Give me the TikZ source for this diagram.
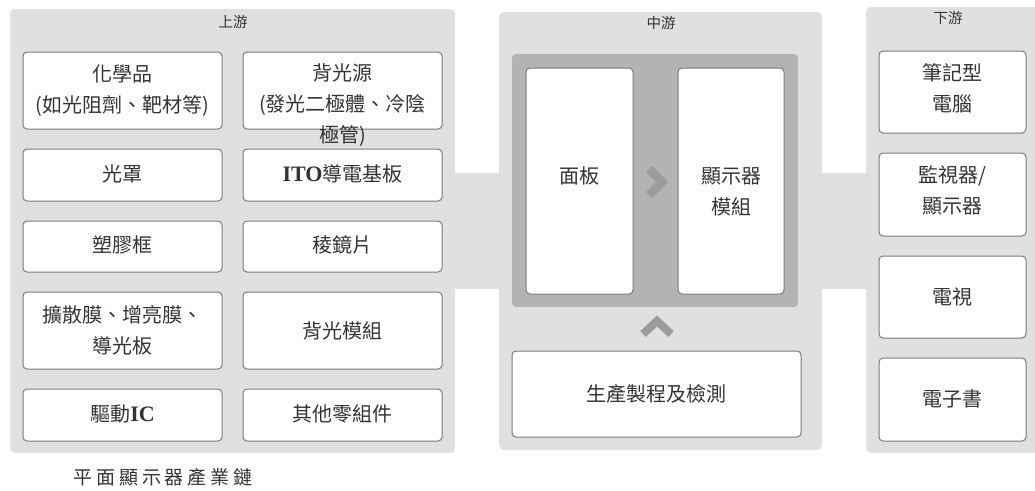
\documentclass[tikz,border=0pt]{standalone}
\usepackage{fontspec}
\setmainfont{Noto Sans CJK TC}
\newfontfamily\latinser[Scale=1.1]{Liberation Serif}
\newfontfamily\capfont[LetterSpace=20]{Noto Sans CJK TC}
\definecolor{panelgray}{HTML}{E0E0E0}
\definecolor{innergray}{HTML}{B3B3B3}
\definecolor{chevc}{HTML}{9B9B9B}
\definecolor{boxline}{HTML}{7A7A7A}
\definecolor{txtc}{HTML}{333333}
\tikzset{
  panelbox/.style={fill=panelgray, draw=none, rounded corners=5pt, inner sep=0pt},
  innerbox/.style={fill=innergray, draw=none, rounded corners=4pt, inner sep=0pt},
  itembox/.style={draw=boxline, line width=1pt, fill=white, rounded corners=4pt, inner sep=0pt,
    font=\fontsize{20}{31}\selectfont, text=txtc, align=center},
  itemtxt/.style={inner sep=0pt, font=\fontsize{20}{31}\selectfont, text=txtc, align=center},
  titletxt/.style={inner sep=0pt, font=\fontsize{14.5}{16}\selectfont, text=txtc},
  chevron/.style={draw=chevc, line width=8.5pt, miter limit=10},
}
\newcommand{\LS}[1]{{\latinser\bfseries #1}}
\begin{document}
\begin{tikzpicture}[x=1pt,y=-1pt]
\useasboundingbox (0,0) rectangle (1035,490);
\fill[white] (0,0) rectangle (1035,490);
% panels
\node[panelbox, minimum width=445pt, minimum height=444pt] (up) at (232.5,231) {};
\node[panelbox, minimum width=323pt, minimum height=438pt] (mid) at (660.5,231) {};
\node[panelbox, minimum width=175pt, minimum height=446pt] (down) at (953.5,230) {};
\fill[panelgray] (up.east |- 0,173) rectangle (mid.west |- 0,289);
\fill[panelgray] (mid.east |- 0,173) rectangle (down.west |- 0,289);
% titles
\node[titletxt] (tup) at (233,22) {上游};
\node[titletxt] (tmid) at (661,23) {中游};
\node[titletxt] (tdown) at (948,18) {下游};
% upstream boxes
\node[itembox, minimum width=199pt, minimum height=77pt] (b1) at (122.5,90.5) {化學品\\(如光阻劑、靶材等)};
\node[itembox, minimum width=199pt, minimum height=77pt] (b2) at (342.5,90.5) {};
\node[itemtxt] (b2t) at (342.5,105) {背光源\\(發光二極體、冷陰\\極管)};
\node[itembox, minimum width=199pt, minimum height=52pt] (b3) at (122.5,175) {\raisebox{4pt}{光罩}};
\node[itembox, minimum width=199pt, minimum height=52pt] (b4) at (342.5,175) {\raisebox{4pt}{\LS{ITO}導電基板}};
\node[itembox, minimum width=199pt, minimum height=51pt] (b5) at (122.5,246.5) {\raisebox{4pt}{塑膠框}};
\node[itembox, minimum width=199pt, minimum height=51pt] (b6) at (342.5,246.5) {\raisebox{4pt}{稜鏡片}};
\node[itembox, minimum width=199pt, minimum height=77pt] (b7) at (122.5,330.5) {擴散膜、增亮膜、\\導光板};
\node[itembox, minimum width=199pt, minimum height=77pt] (b8) at (342.5,330.5) {背光模組};
\node[itembox, minimum width=199pt, minimum height=52pt] (b9) at (122.5,415) {\raisebox{4pt}{驅動\LS{IC}}};
\node[itembox, minimum width=199pt, minimum height=52pt] (b10) at (342.5,415) {\raisebox{4pt}{其他零組件}};
% midstream
\node[innerbox, minimum width=286pt, minimum height=253pt] (inner) at (655,180.5) {};
\node[itembox, minimum width=107pt, minimum height=226pt] (panel) at (579.5,181) {};
\node[itemtxt] (panelt) at (579.5,176) {面板};
\node[itembox, minimum width=106pt, minimum height=226pt] (module) at (731,181) {};
\node[itemtxt] (modulet) at (731,191.5) {顯示器\\模組};
\coordinate (c1) at (649,169);
\coordinate (c2) at (662,182);
\coordinate (c3) at (649,195);
\draw[chevron] (c1) -- (c2) -- (c3);
\coordinate (u1) at (643,334);
\coordinate (u2) at (657,321);
\coordinate (u3) at (671,334);
\draw[chevron, line width=8pt] (u1) -- (u2) -- (u3);
\node[itembox, minimum width=289pt, minimum height=86pt] (proc) at (656.5,394) {\raisebox{2pt}{生產製程及檢測}};
% downstream
\node[itembox, minimum width=147pt, minimum height=82pt] (d1) at (952.5,92) {};
\node[itemtxt] (d1t) at (952.5,88) {筆記型\\電腦};
\node[itembox, minimum width=147pt, minimum height=83pt] (d2) at (952.5,194.5) {};
\node[itemtxt] (d2t) at (952.5,190) {監視器/\\顯示器};
\node[itembox, minimum width=147pt, minimum height=82pt] (d3) at (952.5,297) {電視};
\node[itembox, minimum width=147pt, minimum height=83pt] (d4) at (952.5,399.5) {\raisebox{2pt}{電子書}};
% caption
\node[inner sep=0pt, font=\capfont\fontsize{19}{22}\selectfont, text=txtc] (cap) at (163,477) {平面顯示器產業鏈};
\end{tikzpicture}
\end{document}
